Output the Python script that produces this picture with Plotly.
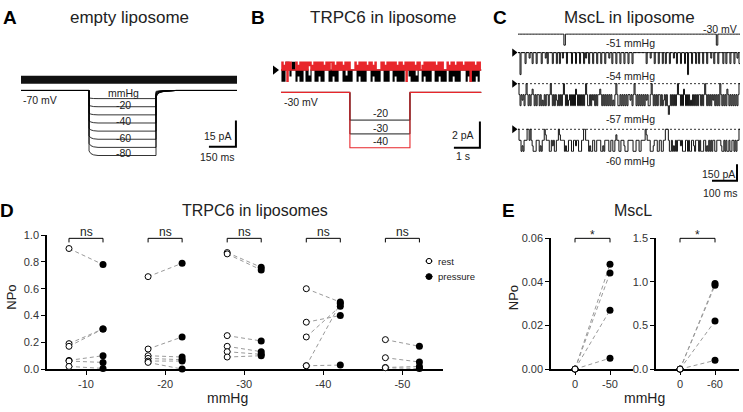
import numpy as np
import plotly.graph_objects as go

# ======================= DATA =======================
# Panel A - empty liposome: pressure steps, flat current at -70 mV
A_PRESSURES_MMHG = [-10, -20, -30, -40, -50, -60, -70, -80]
A_STEP_LABELS = ["mmHg", "-20", "-40", "-60", "-80"]
A_SWEEP_MS = 1200
A_STEP_ON_MS = 378
A_STEP_OFF_MS = 750
A_ONSET_MS = [0, 10, 25, 50]
A_ONSET_FRACTION = [0.93, 0.97, 0.99, 1.0]
A_TAIL_MS = [0, 8, 20, 40, 70, 110]
A_TAIL_FRACTION = [0.11, 0.06, 0.035, 0.018, 0.006, 0.0]
A_CURRENT_PA = [0.0, 0.0]
A_SCALE_PA, A_SCALE_MS = 15, 150

# Panel B - TRPC6 in liposome (-30 mV); state codes -> current level
B_PRESSURES_MMHG = [-20, -30, -40]
B_SWEEP_S = 7.7
B_STEP_ON_S = 2.65
B_STEP_OFF_S = 4.96
B_LEVELS_PA = {"2": 0.6, "3": 0.35, "1": 0.0, "4": -0.45, "0": -0.85}
B_RED_STATES = (
    "1213120212" "1111121312" "1212121232" "1312121212" "1213121212"
    "2121312121" "2131212121" "1111213121" "2121213121" "2131211111"
    "2121312121" "2121213121" "2131202121" "2121312121" "1312121212"
    "1212131212" "1211112131" "2121312121" "2131212120" "2121312121"
)
B_BLACK_STATES = (
    "1010121214" "1212101410" "1011101040" "1111010141" "0101111101"
    "0141010111" "1101040101" "0111110141" "0101011111" "0141010101"
    "1110101011" "1101410101" "0101111141" "0101040111" "1014101010"
    "1111010141" "0101011101" "0141010101" "1111101410" "1010141011"
)
B_SCALE_PA, B_SCALE_S = 2, 1

# Panel C - MscL in liposome (-30 mV); codes = open-channel level (h = 0.5, q = 1.5)
C_SWEEP_MS = 888
C_UNIT_PA = 100
C_CODE_LEVEL = {"0": 0, "h": 0.5, "1": 1, "q": 1.5, "2": 2, "3": 3}
C_PRESSURE_LABELS = ["-51 mmHg", "-54 mmHg", "-57 mmHg", "-60 mmHg"]
C_STATES = [
    ("0000000000" "0000000000" "0000000000" "0100000000" "0000000000"
     "0000000000" "0000000000" "0000000000" "0000000000" "0000000000"
     "0000000000" "0000000000" "0000000000" "0000100000" "0000000000"),
    ("0020000100" "0h00100010" "0001000h01" "0000100010" "0100h00010"
     "0001000100" "0100010h00" "1000100010" "0010001000" "h001000100"
     "0100010001" "0001000000" "0000000100" "0h00010001" "0001001000"
     "1000h00100" "0100010020" "0010001001" "0001000100" "0h00100010"
     "0001001000" "1000100h01"),
    ("0121q12101" "2121h12121" "1212q21211" "21012121q2" "1212101212"
     "q121212h12" "1212121012" "2121q12121" "1h12121212" "1212q21012"
     "2121212121" "1q12101212" "1212121q12" "2101212121" "1212q12123"
     "2121212101" "1212h12121" "2q21212121" "1212101212" "121q121212"
     "0121212h12" "1212121210"),
    ("0112q21110" "0101q22211" "12q2110h11" "1221q12211" "0h11112q22"
     "1112211q11" "2221100111" "2q22112211" "1122q21111" "2211221h11"
     "22111q2221" "1111222111" "2211110h11" "1222q11122" "1122110001"
     "2212q21211" "1q12221121" "2211q21112" "1222112q21" "2121122111"
     "1q22121221" "2211212110"),
]
C_SCALE_PA, C_SCALE_MS = 150, 100

# Panel D - TRPC6 in liposomes, NPo rest vs pressure
D_GROUPS = ["-10", "-20", "-30", "-40", "-50"]
D_REST = [
    [0.90, 0.19, 0.17, 0.065, 0.06, 0.02],
    [0.69, 0.15, 0.10, 0.08, 0.06, 0.05],
    [0.87, 0.86, 0.25, 0.17, 0.13, 0.09],
    [0.60, 0.35, 0.24, 0.025, 0.025],
    [0.22, 0.085, 0.012, 0.01],
]
D_PRESSURE = [
    [0.78, 0.30, 0.30, 0.10, 0.05, 0.005],
    [0.79, 0.24, 0.09, 0.07, 0.06, 0.00],
    [0.76, 0.74, 0.21, 0.13, 0.11, 0.10],
    [0.50, 0.40, 0.47, 0.49, 0.03],
    [0.17, 0.053, 0.02, 0.005],
]
D_SIG = ["ns", "ns", "ns", "ns", "ns"]

# Panel E - MscL NPo
E1_GROUPS = ["0", "-50"]
E1_REST = [0.0, 0.0, 0.0, 0.0]
E1_PRESSURE = [0.048, 0.044, 0.027, 0.005]
E2_GROUPS = ["0", "-60"]
E2_REST = [0.0, 0.0, 0.0, 0.0]
E2_PRESSURE = [0.98, 0.96, 0.55, 0.10]
E_SIG = ["*", "*"]

# ======================= LAYOUT HELPERS =======================
W, H = 743, 412
FONT = "Liberation Sans, Arial, sans-serif"
TXT = "#222"


def px(x):
    return x / W


def py(y):
    return 1 - y / H


def lin_range(v1, p1, v2, p2, pa, pb):
    k = (v2 - v1) / (p2 - p1)
    return [v1 + (pa - p1) * k, v1 + (pb - p1) * k]


def xdom(a, b):
    return [px(a), px(b)]


def ydom(top, bottom):
    return [py(bottom), py(top)]


fig = go.Figure()
layout = dict(
    width=W, height=H, margin=dict(l=0, r=0, t=0, b=0),
    paper_bgcolor="white", plot_bgcolor="rgba(0,0,0,0)",
    font=dict(family=FONT, color=TXT), showlegend=False,
)
hidden = dict(visible=False, fixedrange=True)

# ---- Panel A axes
layout["xaxis"] = dict(hidden, domain=xdom(15, 245), range=lin_range(0, 21, 150, 48, 15, 245), anchor="y")
layout["yaxis"] = dict(hidden, domain=ydom(55, 150), range=lin_range(0, 76, 15, 49, 150, 55), anchor="x")
layout["yaxis2"] = dict(hidden, domain=ydom(80, 162), range=lin_range(0, 87, -80, 154, 162, 80), anchor="x")
# ---- Panel B axes
layout["xaxis2"] = dict(hidden, domain=xdom(262, 492), range=lin_range(0, 281, 1, 307, 262, 492), anchor="y3")
layout["yaxis3"] = dict(hidden, domain=ydom(50, 150), range=lin_range(0, 66, 2, 39, 150, 50), anchor="x2")
layout["yaxis4"] = dict(hidden, domain=ydom(80, 152), range=lin_range(0, 89, -40, 146, 152, 80), anchor="x2")
# ---- Panel C axes
layout["xaxis3"] = dict(hidden, domain=xdom(505, 743), range=lin_range(0, 518, 100, 543, 505, 743), anchor="y5")
C_BASE_PX = [29, 48, 80, 127]
C_DOM_PX = [(18, 46), (38, 72), (70, 112), (115, 185)]
for k in range(4):
    top, bot = C_DOM_PX[k]
    b = C_BASE_PX[k]
    layout[f"yaxis{5 + k}"] = dict(hidden, domain=ydom(top, bot),
                                   range=lin_range(0, b, -150, b + 17, bot, top), anchor="x3")

# ---- Panel D / E visible axes
axstyle = dict(showgrid=False, zeroline=False, showline=True, linecolor="black", linewidth=1.5,
               ticks="outside", ticklen=4, tickwidth=1, tickcolor="black",
               tickfont=dict(size=11, color="#333", family=FONT), layer="below traces", fixedrange=True)
layout["xaxis4"] = dict(axstyle, domain=xdom(47, 443), range=lin_range(1, 86, 2, 165.1, 47, 443),
                        tickvals=list(range(1, len(D_GROUPS) + 1)), ticktext=D_GROUPS, anchor="y9")
layout["yaxis9"] = dict(axstyle, domain=ydom(236, 374), range=[0, 1.0], tickvals=[0, 0.2, 0.4, 0.6, 0.8, 1.0],
                        tickformat=".1f", anchor="x4")
layout["xaxis5"] = dict(axstyle, domain=xdom(551, 633), range=lin_range(0, 575, 1, 610, 551, 633),
                        tickvals=[0, 1], ticktext=E1_GROUPS, anchor="y10")
layout["yaxis10"] = dict(axstyle, domain=ydom(239, 374), range=[0, 0.06], tickvals=[0, 0.02, 0.04, 0.06],
                         tickformat=".2f", anchor="x5")
layout["xaxis6"] = dict(axstyle, domain=xdom(656, 739), range=lin_range(0, 680, 1, 715, 656, 739),
                        tickvals=[0, 1], ticktext=E2_GROUPS, anchor="y11")
layout["yaxis11"] = dict(axstyle, domain=ydom(239, 374), range=[0, 1.5], tickvals=[0, 0.5, 1.0, 1.5],
                         tickformat=".1f", anchor="x6")

# ======================= PANEL A TRACES =======================
fig.add_trace(go.Scatter(x=[0, A_SWEEP_MS], y=A_CURRENT_PA, mode="lines",
                         line=dict(color="#111", width=8), xaxis="x", yaxis="y"))
for p in A_PRESSURES_MMHG:
    xs = [0, A_STEP_ON_MS] + [A_STEP_ON_MS + t for t in A_ONSET_MS] + [A_STEP_OFF_MS]
    ys = [0, 0] + [p * f for f in A_ONSET_FRACTION] + [p]
    xs += [A_STEP_OFF_MS + t for t in A_TAIL_MS] + [A_SWEEP_MS]
    ys += [p * f for f in A_TAIL_FRACTION] + [0]
    fig.add_trace(go.Scatter(x=xs, y=ys, mode="lines", line=dict(color="black", width=0.8),
                             xaxis="x", yaxis="y2"))
A_BAR_T, A_BAR_Y = 1194, -38.3
fig.add_trace(go.Scatter(x=[A_BAR_T - A_SCALE_MS, A_BAR_T, A_BAR_T], y=[A_BAR_Y, A_BAR_Y, A_BAR_Y + A_SCALE_PA],
                         mode="lines", line=dict(color="black", width=2), xaxis="x", yaxis="y"))


# ======================= PANEL B TRACES =======================
def step_trace(states, levels, duration):
    n = len(states)
    t = np.arange(n + 1) * duration / n
    y = [levels[c] for c in states]
    y.append(y[-1])
    return t, y


for states, col, w in [(B_BLACK_STATES, "black", 1.1), (B_RED_STATES, "#e8262b", 1.5)]:
    t, y = step_trace(states, B_LEVELS_PA, B_SWEEP_S)
    fig.add_trace(go.Scatter(x=t, y=y, mode="lines", line=dict(color=col, width=w, shape="hv"),
                             xaxis="x2", yaxis="y3"))
fig.add_trace(go.Scatter(x=[-0.23], y=[0], mode="markers", marker=dict(symbol="triangle-right", size=8, color="black"),
                         xaxis="x2", yaxis="y3", cliponaxis=False))
for p in B_PRESSURES_MMHG:
    col = "#e8262b" if p == min(B_PRESSURES_MMHG) else "black"
    fig.add_trace(go.Scatter(x=[0, B_STEP_ON_S, B_STEP_ON_S, B_STEP_OFF_S, B_STEP_OFF_S, B_SWEEP_S],
                             y=[0, 0, p, p, 0, 0], mode="lines",
                             line=dict(color=col, width=1.1 if col != "black" else 0.9),
                             xaxis="x2", yaxis="y4"))
B_BAR_T, B_BAR_Y = 7.65, -5.93
fig.add_trace(go.Scatter(x=[B_BAR_T - B_SCALE_S, B_BAR_T, B_BAR_T], y=[B_BAR_Y, B_BAR_Y, B_BAR_Y + B_SCALE_PA],
                         mode="lines", line=dict(color="black", width=2), xaxis="x2", yaxis="y3"))

# ======================= PANEL C TRACES =======================
C_LEVELS = {c: -v * C_UNIT_PA for c, v in C_CODE_LEVEL.items()}
for k, states in enumerate(C_STATES):
    ya = f"y{5 + k}"
    if k > 0:
        fig.add_trace(go.Scatter(x=[0, C_SWEEP_MS], y=[0, 0], mode="lines",
                                 line=dict(color="black", width=0.8, dash="2px,2px"), xaxis="x3", yaxis=ya))
    t, y = step_trace(states, C_LEVELS, C_SWEEP_MS)
    fig.add_trace(go.Scatter(x=t, y=y, mode="lines", line=dict(color="#111", width=1, shape="hv"),
                             xaxis="x3", yaxis=ya))
    if k > 0:
        fig.add_trace(go.Scatter(x=[-16], y=[0], mode="markers",
                                 marker=dict(symbol="triangle-right", size=7, color="black"),
                                 xaxis="x3", yaxis=ya, cliponaxis=False))
C_BAR_T, C_BAR_Y = 876, -468
fig.add_trace(go.Scatter(x=[C_BAR_T - C_SCALE_MS, C_BAR_T, C_BAR_T], y=[C_BAR_Y, C_BAR_Y, C_BAR_Y + C_SCALE_PA],
                         mode="lines", line=dict(color="black", width=2), xaxis="x3", yaxis="y8"))

# ======================= PANEL D / E =======================
DASH = dict(color="#9a9a9a", width=1, dash="4px,3px")
OFF = 0.215


def paired(xa, ya, rest_x, pres_x, rest, pres):
    lx, ly = [], []
    for r, p in zip(rest, pres):
        lx += [rest_x, pres_x, None]
        ly += [r, p, None]
    fig.add_trace(go.Scatter(x=lx, y=ly, mode="lines", line=DASH, xaxis=xa, yaxis=ya))
    fig.add_trace(go.Scatter(x=[rest_x] * len(rest), y=rest, mode="markers", cliponaxis=False,
                             marker=dict(symbol="circle", size=6, color="white", line=dict(color="black", width=1)),
                             xaxis=xa, yaxis=ya))
    fig.add_trace(go.Scatter(x=[pres_x] * len(pres), y=pres, mode="markers", cliponaxis=False,
                             marker=dict(symbol="circle", size=7, color="black"), xaxis=xa, yaxis=ya))


for gi in range(len(D_GROUPS)):
    paired("x4", "y9", gi + 1 - OFF, gi + 1 + OFF, D_REST[gi], D_PRESSURE[gi])
paired("x5", "y10", 0, 1, E1_REST, E1_PRESSURE)
paired("x6", "y11", 0, 1, E2_REST, E2_PRESSURE)

shapes = []
annotations = []


def bracket(xref, x0, x1, label):
    shapes.append(dict(type="path", xref=xref, yref="paper",
                       path=f"M {x0},{py(243.5)} L {x0},{py(239.3)} L {x1},{py(239.3)} L {x1},{py(243.5)}",
                       line=dict(color="black", width=1)))
    annotations.append(dict(text=label, x=(x0 + x1) / 2, xref=xref, y=py(233 if label == "ns" else 236),
                            yref="paper", showarrow=False, xanchor="center", yanchor="middle",
                            font=dict(size=12, family=FONT, color=TXT)))


for gi, s in enumerate(D_SIG):
    bracket("x4", gi + 1 - OFF, gi + 1 + OFF, s)
bracket("x5", 0, 1, E_SIG[0])
bracket("x6", 0, 1, E_SIG[1])

# legend (D)
shapes.append(dict(type="line", xref="paper", yref="paper", x0=px(425.5), x1=px(432.5), y0=py(262.7), y1=py(262.7),
                   line=dict(color="black", width=1)))
shapes.append(dict(type="circle", xref="paper", yref="paper", x0=px(426.3), x1=px(431.7), y0=py(265.4), y1=py(260),
                   fillcolor="white", line=dict(color="black", width=1)))
shapes.append(dict(type="line", xref="paper", yref="paper", x0=px(425.5), x1=px(432.5), y0=py(278.7), y1=py(278.7),
                   line=dict(color="black", width=1)))
shapes.append(dict(type="circle", xref="paper", yref="paper", x0=px(426), x1=px(432), y0=py(281.7), y1=py(275.7),
                   fillcolor="black", line=dict(color="black", width=1)))


def ann(text, x, y, size, xanchor="center", angle=0, color=TXT):
    annotations.append(dict(text=text, x=px(x), y=py(y), xref="paper", yref="paper", showarrow=False,
                            xanchor=xanchor, yanchor="middle", textangle=angle,
                            font=dict(size=size, family=FONT, color=color)))


for letter, x, y in [("A", 9.5, 11.5), ("B", 257.5, 12), ("C", 499.5, 12), ("D", 7.5, 210.5), ("E", 508.5, 211)]:
    ann(f"<b>{letter}</b>", x, y, 19, color="black")
ann("empty liposome", 129, 12, 17)
ann("TRPC6 in liposome", 382.5, 12, 17)
ann("MscL in liposome", 629, 12, 17)
ann("TRPC6 in liposomes", 255, 211, 16)
ann("MscL", 632.5, 211, 16)

ann("-70 mV", 20.5, 96.7, 10.5, xanchor="left")
for lab, y in zip(A_STEP_LABELS, [89.3, 101.7, 118.3, 136, 151.7]):
    ann(lab, 123.5, y, 10.5)
ann(f"{A_SCALE_PA} pA", 217.3, 134, 10.5)
ann(f"{A_SCALE_MS} ms", 216.7, 155.3, 10.5)

ann("-30 mV", 282, 99.3, 10.5, xanchor="left")
for p, y in zip(B_PRESSURES_MMHG, [110.7, 125.3, 139]):
    ann(str(p), 380, y, 10.5)
ann(f"{B_SCALE_PA} pA", 462.7, 132.7, 10.5)
ann(f"{B_SCALE_S} s", 463.3, 155, 10.5)

ann("-30 mV", 739, 23.3, 10.5, xanchor="right")
for lab, y in zip(C_PRESSURE_LABELS, [38.3, 71.7, 116, 159.3]):
    ann(lab, 630, y, 10.5)
ann(f"{C_SCALE_PA} pA", 718.5, 173.3, 10.5)
ann(f"{C_SCALE_MS} ms", 720, 192.7, 10.5)

ann("rest", 436, 262.7, 9.5, xanchor="left")
ann("pressure", 436, 278.7, 9.5, xanchor="left")

ann("NPo", 12, 300.5, 13, angle=-90)
ann("mmHg", 227, 403.5, 14)
ann("NPo", 513, 301, 13, angle=-90)
ann("mmHg", 644, 403.5, 14)

layout["shapes"] = shapes
layout["annotations"] = annotations
fig.update_layout(**layout)
fig.write_html("out.html", config={"displayModeBar": False},
               post_script="document.body.style.margin='0';document.body.style.padding='0';"
                           "document.body.style.overflow='hidden';")
